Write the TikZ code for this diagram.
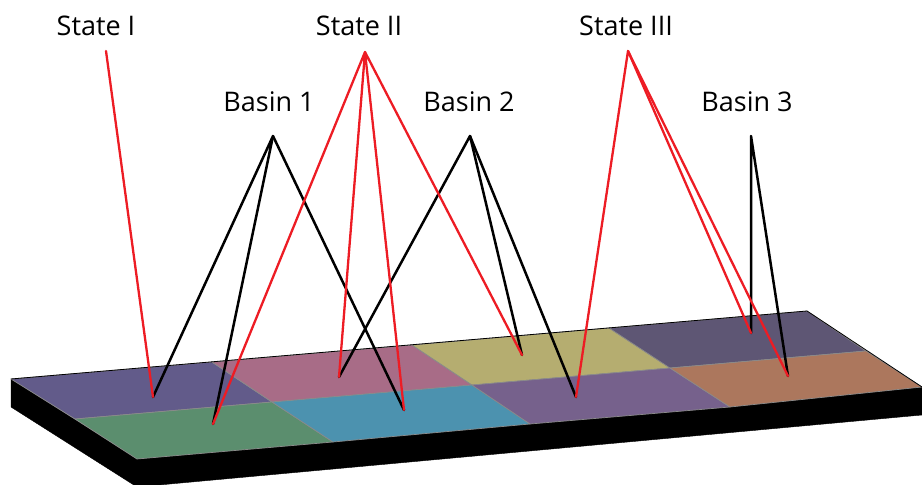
\documentclass[tikz,border=0pt]{standalone}
\usepackage{fontspec}
\setmainfont{Open Sans}
\definecolor{linkred}{HTML}{ED1C24}
\definecolor{seam}{HTML}{8A8A8A}
\definecolor{tA}{HTML}{625B8A}
\definecolor{tB}{HTML}{A86C87}
\definecolor{tC}{HTML}{B5AD70}
\definecolor{tD}{HTML}{5E5674}
\definecolor{tE}{HTML}{5B8E6E}
\definecolor{tF}{HTML}{4C92AF}
\definecolor{tG}{HTML}{76618C}
\definecolor{tH}{HTML}{AC775D}
\begin{document}
\begin{tikzpicture}[x=1pt,y=-1pt,
  tile/.style={draw=seam, line width=0.7pt, line join=round},
  slabside/.style={fill=black, draw=black, line width=0.4pt},
  statelink/.style={draw=linkred, line width=2.3pt, line cap=round, line join=round},
  basinlink/.style={draw=black, line width=2.5pt, line cap=round, line join=round},
  lbl/.style={font=\fontsize{27}{30}\selectfont, inner sep=0pt, anchor=base}]
\useasboundingbox (0,0) rectangle (922,485);

% grid corners of the slab's top face: back row (a), middle row (m), front row (f)
\coordinate (a0) at (11,379);  \coordinate (a1) at (212,362); \coordinate (a2) at (412,345);
\coordinate (a3) at (609,328); \coordinate (a4) at (807,311);
\coordinate (m0) at (75,419);  \coordinate (m1) at (272,402); \coordinate (m2) at (472,385);
\coordinate (m3) at (670,368); \coordinate (m4) at (866,351);
\coordinate (f0) at (137,459); \coordinate (f1) at (333,442); \coordinate (f2) at (530,424);
\coordinate (f3) at (730,407); \coordinate (f4) at (922,387);

% slab thickness
\fill[slabside] (a0) -- (f0) -- ([yshift=-28pt]f0) -- ([yshift=-28pt]a0) -- cycle;
\fill[slabside] (f0) -- (f4) -- ([yshift=-28pt]f4) -- ([yshift=-28pt]f0) -- cycle;

% tiles
\filldraw[tile, fill=tA] (a0) -- (a1) -- (m1) -- (m0) -- cycle;
\filldraw[tile, fill=tB] (a1) -- (a2) -- (m2) -- (m1) -- cycle;
\filldraw[tile, fill=tC] (a2) -- (a3) -- (m3) -- (m2) -- cycle;
\filldraw[tile, fill=tD] (a3) -- (a4) -- (m4) -- (m3) -- cycle;
\filldraw[tile, fill=tE] (m0) -- (m1) -- (f1) -- (f0) -- cycle;
\filldraw[tile, fill=tF] (m1) -- (m2) -- (f2) -- (f1) -- cycle;
\filldraw[tile, fill=tG] (m2) -- (m3) -- (f3) -- (f2) -- cycle;
\filldraw[tile, fill=tH] (m3) -- (m4) -- (f4) -- (f3) -- cycle;

% outer rim of the top face
\draw[black, line width=0.8pt, line join=round] (a0) -- (a4) -- (f4);

% points on the tiles
\coordinate (p1) at (153,397);
\coordinate (p2) at (213,424);
\coordinate (p3) at (339,377);
\coordinate (p4) at (404,410);
\coordinate (p5) at (522,355);
\coordinate (p6) at (576,397);
\coordinate (p7) at (751,333);
\coordinate (p8) at (788,376);

% labels and the points their connectors start from
\node[lbl] (s1) at (96,35)  {State I};
\node[lbl] (s2) at (359,35) {State II};
\node[lbl] (s3) at (626,35) {State III};
\node[lbl] (b1) at (269,111) {Basin 1};
\node[lbl] (b2) at (469,111) {Basin 2};
\node[lbl] (b3) at (747,111) {Basin 3};
\coordinate (s1tip) at (106,51);
\coordinate (s2tip) at (365,52);
\coordinate (s3tip) at (628,51);
\coordinate (b1tip) at (273,136);
\coordinate (b2tip) at (470,136);
\coordinate (b3tip) at (751,136);

% basin connectors
\draw[basinlink] (p1) -- (b1tip) -- (p2);
\draw[basinlink] (b1tip) -- (p4);
\draw[basinlink] (p3) -- (b2tip) -- (p5);
\draw[basinlink] (b2tip) -- (p6);
\draw[basinlink] (p7) -- (b3tip) -- (p8);

% state connectors
\draw[statelink] (s1tip) -- (p1);
\draw[statelink] (p2) -- (s2tip) -- (p3);
\draw[statelink] (p4) -- (s2tip) -- (p5);
\draw[statelink] (p6) -- (s3tip) -- (p7);
\draw[statelink] (s3tip) -- (p8);
\end{tikzpicture}
\end{document}
